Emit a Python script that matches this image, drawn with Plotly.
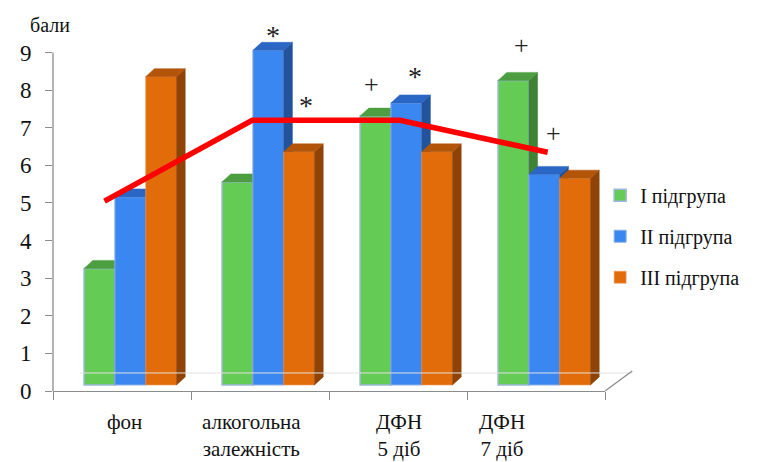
import plotly.graph_objects as go

# ---------------- data ----------------
categories = ["фон", "алкогольна<br>залежність", "ДФН<br>5 діб", "ДФН<br>7 діб"]
series_names = ["I підгрупа", "II підгрупа", "III підгрупа"]
group1 = [3.1, 5.4, 7.15, 8.1]
group2 = [5.0, 8.9, 7.5, 5.6]
group3 = [8.2, 6.2, 6.2, 5.5]
line_values = [5.05, 7.2, 7.2, 6.35]
y_ticks = [0, 1, 2, 3, 4, 5, 6, 7, 8, 9]
# significance marks: (text, category index, series index)
mark_text = ["*", "*", "+", "*", "+", "+"]
mark_cat = [1, 1, 2, 2, 3, 3]
mark_series = [1, 2, 0, 1, 0, 1]

# ---------------- style / geometry (screen pixels) ----------------
W, H = 757, 462
PAGE_OFF = 8                  # default page margin of the browser
AX_LEFT, AX_RIGHT = 44, 612   # screen x of plot area
AX_ZERO, AX_NINE = 391, 53    # screen y of 0 and 9
YMAX_TICK = 9
YTOP = 9.6                    # room for 3D tops above the 9 line
PX_Y = (AX_ZERO - AX_NINE) / YMAX_TICK
PLOT_TOP = AX_ZERO - YTOP * PX_Y
PLOT_W = AX_RIGHT - AX_LEFT
PLOT_H = AX_ZERO - PLOT_TOP
PX_X = PLOT_W / 4
BAR_SHIFT_PX = 8.5
FLOOR_LIFT_PX = 6
DEPTH_X_PX, DEPTH_Y_PX = 9, 8
BAR_W = 31.7 / PX_X
LINE_START_PX, LINE_STEP_PX = 53, 152
label_shift_px = [2, -9, 1, -34]
mark_dx_px = [0, 3, -8, 4, 4, 5]
mark_dy_px = [22, 53, 32, 33, 35, 41]

front_cols = ["#64CB55", "#3A87F2", "#E36C0A"]
top_cols = ["#4C9E40", "#2A66C4", "#B35508"]
side_cols = ["#3F8434", "#22539C", "#8F4306"]
edge_cols = ["#9DB8DA", "#8DB0E4", "#EE9E62"]
edge_w = [1.5, 1.0, 0.6]
SERIF = "'Liberation Serif', Tinos, 'Times New Roman', 'DejaVu Serif', serif"
AXIS_COL = "#8C8C8C"
TXT = "#111111"

values = [group1, group2, group3]
cat_x = list(range(len(categories)))
dx = DEPTH_X_PX / PX_X
dy = DEPTH_Y_PX / PX_Y
group_w = BAR_W * 3

fig = go.Figure()

for k, vals in enumerate(values):
    xa = f"x{3 + k}"
    ya = f"y{2 + k}"
    off = -group_w / 2 + k * BAR_W
    sx, sy, tx, ty = [], [], [], []
    for j, v in zip(cat_x, vals):
        xl = j + off
        xr = xl + BAR_W
        sx += [xr, xr + dx, xr + dx, xr, xr, None]
        sy += [0, dy, v + dy, v, 0, None]
        tx += [xl, xl + dx, xr + dx, xr, xl, None]
        ty += [v, v + dy, v + dy, v, v, None]
    fig.add_trace(go.Bar(
        x=cat_x, y=vals, width=BAR_W, offset=off, name=series_names[k],
        marker=dict(color=front_cols[k], line=dict(color=edge_cols[k], width=edge_w[k])),
        xaxis=xa, yaxis=ya, legendgroup=series_names[k], hoverinfo="y"))
    fig.add_trace(go.Scatter(
        x=sx, y=sy, mode="lines", fill="toself", fillcolor=side_cols[k],
        line=dict(color=side_cols[k], width=0.5), showlegend=False,
        xaxis=xa, yaxis=ya, hoverinfo="skip", legendgroup=series_names[k]))
    fig.add_trace(go.Scatter(
        x=tx, y=ty, mode="lines", fill="toself", fillcolor=top_cols[k],
        line=dict(color=top_cols[k], width=0.5), showlegend=False,
        xaxis=xa, yaxis=ya, hoverinfo="skip", legendgroup=series_names[k]))

fig.add_trace(go.Scatter(
    x=cat_x, y=line_values, mode="lines", line=dict(color="#FF0000", width=5.5),
    showlegend=False, xaxis="x6", yaxis="y", hoverinfo="y"))

bar_xrange = [-0.5 - BAR_SHIFT_PX / PX_X, 3.5 - BAR_SHIFT_PX / PX_X]
bar_yrange = [-FLOOR_LIFT_PX / PX_Y, YTOP - FLOOR_LIFT_PX / PX_Y]
hidden = dict(visible=False, showgrid=False, zeroline=False, fixedrange=True)

layout_axes = {}
for k in range(3):
    layout_axes[f"xaxis{3 + k}"] = dict(hidden, overlaying="x", range=bar_xrange)
    layout_axes[f"yaxis{2 + k}"] = dict(hidden, overlaying="y", range=bar_yrange)
layout_axes["xaxis6"] = dict(hidden, overlaying="x",
                             range=[-LINE_START_PX / LINE_STEP_PX,
                                    (PLOT_W - LINE_START_PX) / LINE_STEP_PX])

annotations = []
for i, lab in enumerate(categories):
    annotations.append(dict(
        x=i, y=0, xref="x", yref="y", text=lab, showarrow=False,
        xanchor="center", yanchor="top", yshift=-17, xshift=label_shift_px[i],
        font=dict(family=SERIF, size=21, color=TXT)))
for t, c, s, mx, my in zip(mark_text, mark_cat, mark_series, mark_dx_px, mark_dy_px):
    off = -group_w / 2 + s * BAR_W
    annotations.append(dict(
        x=c + off + BAR_W / 2 + dx / 2, y=values[s][c], xref=f"x{3 + s}", yref=f"y{2 + s}",
        text=t, showarrow=False, xanchor="center", yanchor="middle",
        xshift=mx, yshift=my - (7 if t == "*" else 0),
        font=dict(family=SERIF, size=28 if t == "*" else 26, color="#222222")))
annotations.append(dict(
    x=(41 - AX_LEFT) / PLOT_W, y=(AX_ZERO - 25) / PLOT_H, xref="paper", yref="paper",
    text="бали", showarrow=False, xanchor="center", yanchor="middle",
    font=dict(family=SERIF, size=20, color=TXT)))

shapes = [
    # value axis line, ending at 9
    dict(type="line", xref="paper", yref="y", x0=0, x1=0, y0=0, y1=YMAX_TICK,
         line=dict(color=AXIS_COL, width=1.3)),
    # 3D floor: back edge and right edge
    dict(type="line", xref="paper", yref="y", x0=28 / PLOT_W, x1=1 + 28 / PLOT_W,
         y0=18 / PX_Y, y1=18 / PX_Y, line=dict(color="#E2E2E2", width=1)),
    dict(type="line", xref="paper", yref="y", x0=1, x1=1 + 28 / PLOT_W,
         y0=0, y1=20 / PX_Y, line=dict(color=AXIS_COL, width=1.3)),
]

fig.update_layout(
    width=W - PAGE_OFF, height=H - PAGE_OFF,
    margin=dict(l=AX_LEFT - PAGE_OFF, r=W - AX_RIGHT, t=PLOT_TOP - PAGE_OFF,
                b=H - AX_ZERO, pad=0),
    paper_bgcolor="white", plot_bgcolor="white",
    font=dict(family=SERIF, color=TXT),
    barmode="overlay",
    xaxis=dict(range=[-0.5, 3.5], tickvals=[-0.5, 0.5, 1.5, 2.5, 3.5],
               showticklabels=False, ticks="outside", ticklen=8, tickcolor=AXIS_COL,
               tickwidth=1.3, showline=True, linecolor=AXIS_COL, linewidth=1.3,
               showgrid=False, zeroline=False, fixedrange=True),
    yaxis=dict(range=[0, YTOP], tickvals=y_ticks, ticks="outside", ticklen=7,
               tickcolor=AXIS_COL, tickwidth=1.3, showline=False,
               showgrid=False, zeroline=False, fixedrange=True,
               tickfont=dict(family=SERIF, size=23, color=TXT),
               ticklabelstandoff=9),
    legend=dict(x=(607 - AX_LEFT) / PLOT_W, y=(AX_ZERO - 176) / PLOT_H, xanchor="left",
                yanchor="top", font=dict(family=SERIF, size=20, color=TXT),
                tracegroupgap=12, bgcolor="rgba(0,0,0,0)", itemclick=False),
    annotations=annotations, shapes=shapes, showlegend=True,
    **layout_axes,
)

fig.write_html("out.html")
